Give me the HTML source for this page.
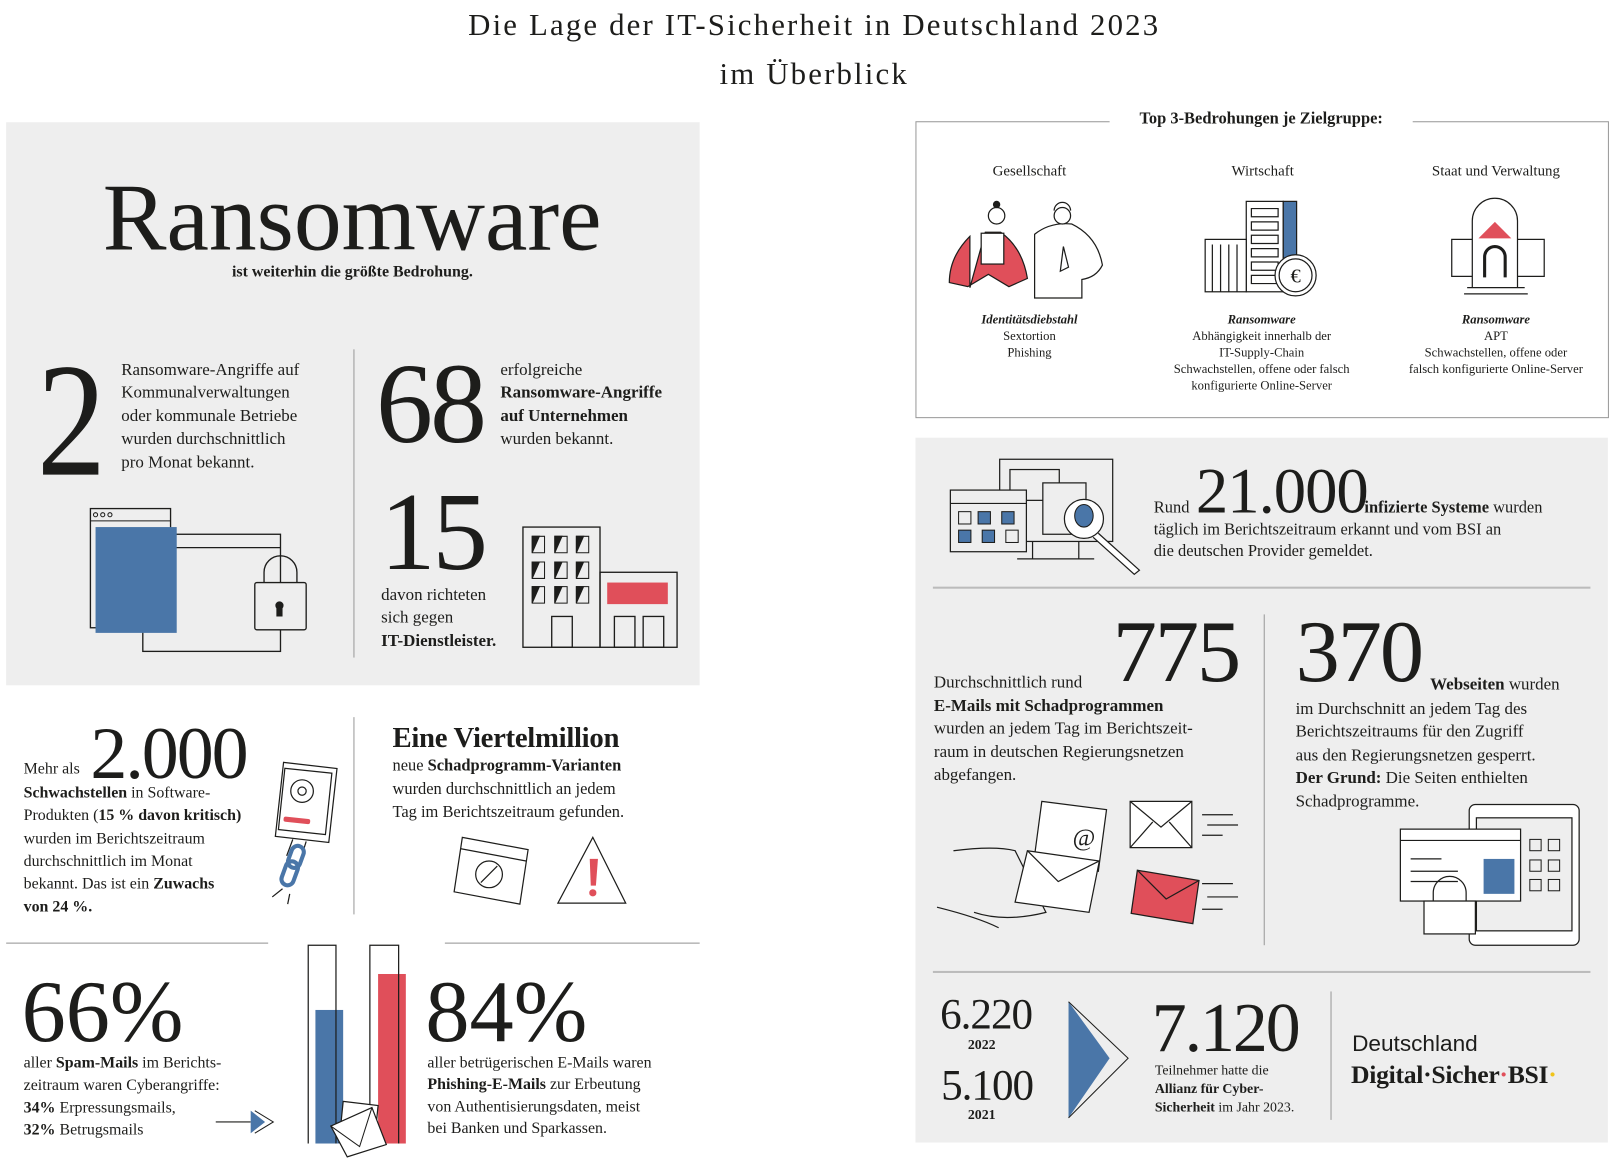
<!DOCTYPE html>
<html><head><meta charset="utf-8"><style>
html,body{margin:0;padding:0;background:#fff;overflow:hidden}
#w{position:absolute;left:0;top:0;width:1568px;height:1127px;transform:scale(1.02742);transform-origin:0 0;font-family:"Liberation Serif",serif;color:#1d1d1b}
.t{position:absolute;white-space:nowrap;line-height:1}
.g{position:absolute;background:#eeeeee}
.b{font-weight:bold}
.p{position:absolute;white-space:nowrap;font-size:16.5px;line-height:22.4px}
.c{position:absolute;text-align:center;white-space:nowrap;font-size:12.3px;line-height:16px;transform:translateX(-50%)}
svg{position:absolute;overflow:visible}
</style></head><body><div id="w">

<div class="t" style="left:0;width:1585px;text-align:center;top:10px;font-size:30px;letter-spacing:2.1px">Die Lage der IT-Sicherheit in Deutschland 2023</div>
<div class="t" style="left:0;width:1585px;text-align:center;top:58px;font-size:30px;letter-spacing:2.1px">im Überblick</div>

<div class="g" style="left:6px;top:119px;width:675px;height:548px"></div>
<div class="t" style="left:100px;top:166px;font-size:93px">Ransomware</div>
<div class="t b" style="left:143px;width:400px;text-align:center;top:257px;font-size:15.5px">ist weiterhin die größte Bedrohung.</div>
<div style="position:absolute;left:344px;top:340px;width:1px;height:300px;background:#999"></div>

<div class="t" style="left:36px;top:331px;font-size:158px;transform:scaleX(0.85);transform-origin:0 0">2</div>
<div class="p" style="left:118px;top:349px">Ransomware-Angriffe auf<br>Kommunalverwaltungen<br>oder kommunale Betriebe<br>wurden durchschnittlich<br>pro Monat bekannt.</div>
<div class="t" style="left:366px;top:338px;font-size:111px;letter-spacing:-3px">68</div>
<div class="p" style="left:487px;top:349px">erfolgreiche<br><b>Ransomware-Angriffe<br>auf Unternehmen</b><br>wurden bekannt.</div>
<div class="t" style="left:370px;top:465px;font-size:108px;letter-spacing:-3px">15</div>
<div class="p" style="left:371px;top:568px">davon richteten<br>sich gegen<br><b>IT-Dienstleister.</b></div>

<svg style="left:0;top:0" width="700" height="700">
 <g fill="none" stroke="#1d1d1b" stroke-width="1.3">
  <rect x="139" y="520" width="134" height="114"/>
  <line x1="139" y1="533" x2="273" y2="533"/>
 </g>
 <rect x="88" y="495" width="78" height="116" fill="#eee" stroke="#1d1d1b" stroke-width="1.3"/>
 <rect x="93" y="513" width="79" height="103" fill="#4a76a8"/>
 <line x1="88" y1="507" x2="166" y2="507" stroke="#1d1d1b"/>
 <g fill="none" stroke="#1d1d1b" stroke-width="1"><circle cx="93" cy="501" r="2"/><circle cx="100" cy="501" r="2"/><circle cx="107" cy="501" r="2"/></g>
 <path d="M257 567 v-10 a16 16 0 0 1 32 0 v10" fill="none" stroke="#1d1d1b" stroke-width="1.3"/>
 <rect x="248" y="567" width="50" height="46" rx="2" fill="#eee" stroke="#1d1d1b" stroke-width="1.3"/>
 <path d="M269 592 a4 4 0 1 1 6 0 v8 h-6z" fill="#1d1d1b"/>
 <g fill="none" stroke="#1d1d1b" stroke-width="1.3">
  <rect x="509" y="513" width="75" height="117"/>
  <rect x="584" y="557" width="75" height="73"/>
  <rect x="537" y="600" width="20" height="30"/>
  <rect x="598" y="600" width="20" height="30"/>
  <rect x="626" y="600" width="20" height="30"/>
 </g>
 <rect x="591" y="567" width="59" height="21" fill="#e04f5a"/>
 <g fill="#1d1d1b" stroke="#1d1d1b">
  <path d="M518 522h12v16h-12z M540 522h12v16h-12z M561 522h12v16h-12z M518 547h12v16h-12z M540 547h12v16h-12z M561 547h12v16h-12z M518 571h12v16h-12z M540 571h12v16h-12z M561 571h12v16h-12z" fill="none"/>
  <path d="M518 538 l0 -16 l7 0z M540 538 l0 -16 l7 0z M561 538 l0 -16 l7 0z M518 563 l0 -16 l7 0z M540 563 l0 -16 l7 0z M561 563 l0 -16 l7 0z M518 587 l0 -16 l7 0z M540 587 l0 -16 l7 0z M561 587 l0 -16 l7 0z"/>
 </g>
</svg>

<div class="t" style="left:23px;top:741px;font-size:15.5px">Mehr als</div>
<div class="t" style="left:88px;top:697px;font-size:72px;letter-spacing:-2px">2.000</div>
<div class="p" style="left:23px;top:761px;font-size:15.5px;line-height:22.3px"><b>Schwachstellen</b> in Software-<br>Produkten (<b>15 % davon kritisch)</b><br>wurden im Berichtszeitraum<br>durchschnittlich im Monat<br>bekannt. Das ist ein <b>Zuwachs<br>von 24 %.</b></div>
<div style="position:absolute;left:344px;top:698px;width:1px;height:192px;background:#999"></div>
<div class="t b" style="left:382px;top:705px;font-size:28px;letter-spacing:-0.3px">Eine Viertelmillion</div>
<div class="p" style="left:382px;top:735px;font-size:16px;line-height:22.5px">neue <b>Schadprogramm-Varianten</b><br>wurden durchschnittlich an jedem<br>Tag im Berichtszeitraum gefunden.</div>

<svg style="left:0;top:0" width="700" height="1130">
 <g fill="none" stroke="#1d1d1b" stroke-width="1.2">
  <path d="M276 742 l52 6 l-8 72 l-52 -6z"/>
  <rect x="274" y="750" width="46" height="60" transform="rotate(6 297 780)"/>
  <circle cx="294" cy="770" r="11"/><circle cx="294" cy="770" r="4"/>
  <path d="M285 817 l-6 16 M298 819 l-5 16"/>
  <path d="M450 815 l64 12 l-8 53 l-64 -12z"/><path d="M448 826 l64 12"/>
  <circle cx="476" cy="851" r="13"/><path d="M468 859 l16 -16"/>
  <path d="M577 815 l32 64 h-66z"/>
  <path d="M275 865 l-10 8 M282 870 l-2 10"/>
 </g>
 <rect x="276" y="796" width="26" height="5" rx="2" fill="#e04f5a" transform="rotate(6 289 798)"/>
 <g fill="none" stroke="#4a76a8" stroke-width="4"><rect x="282" y="823" width="12" height="22" rx="6" transform="rotate(20 288 834)"/><rect x="276" y="838" width="12" height="24" rx="6" transform="rotate(20 282 850)"/></g>
 <path d="M574 836 l8 0 l-2 26 l-5 0z" fill="#e04f5a"/><circle cx="577" cy="869" r="3.5" fill="#e04f5a"/>
 <line x1="6" y1="918" x2="261" y2="918" stroke="#bbb" stroke-width="1.5"/>
 <line x1="433" y1="918" x2="681" y2="918" stroke="#bbb" stroke-width="1.5"/>
 <rect x="307" y="983" width="27" height="130" fill="#4a76a8"/>
 <rect x="368" y="948" width="27" height="165" fill="#e04f5a"/>
 <g fill="none" stroke="#1d1d1b" stroke-width="1.2"><path d="M300 1113 V920 h27 V1113 M360 1113 V920 h28 V1113"/></g>
 <path d="M334 1072 l34 4 l-4 40 l-34 -4z" fill="#fff" stroke="#1d1d1b" stroke-width="1.2"/>
 <path d="M322 1096 l40 -18 l14 36 l-38 12z" fill="#fff" stroke="#1d1d1b" stroke-width="1.2"/>
 <path d="M322 1096 l28 20 l12 -38" fill="none" stroke="#1d1d1b"/>
 <line x1="210" y1="1092" x2="244" y2="1092" stroke="#1d1d1b" stroke-width="1.2"/>
 <path d="M244 1081 l14 11 l-14 11z" fill="#4a76a8"/><path d="M248 1081 l18 11 l-18 11" fill="none" stroke="#1d1d1b"/>
</svg>

<div class="t" style="left:21px;top:941px;font-size:86px;letter-spacing:0px">66%</div>
<div class="p" style="left:23px;top:1024px;font-size:15.5px;line-height:21.8px">aller <b>Spam-Mails</b> im Berichts-<br>zeitraum waren Cyberangriffe:<br><b>34%</b> Erpressungsmails,<br><b>32%</b> Betrugsmails</div>
<div class="t" style="left:414px;top:941px;font-size:86px;letter-spacing:0px">84%</div>
<div class="p" style="left:416px;top:1024px;font-size:15.5px;line-height:21.3px">aller betrügerischen E-Mails waren<br><b>Phishing-E-Mails</b> zur Erbeutung<br>von Authentisierungsdaten, meist<br>bei Banken und Sparkassen.</div>

<div style="position:absolute;left:891px;top:118px;width:673px;height:287px;border:1px solid #999"></div>
<div class="t b" style="left:1080px;width:295px;text-align:center;top:108px;font-size:16px;background:#fff">Top 3-Bedrohungen je Zielgruppe:</div>
<div class="t" style="left:1002px;top:160px;font-size:14.5px;transform:translateX(-50%)">Gesellschaft</div>
<div class="t" style="left:1229px;top:160px;font-size:14.5px;transform:translateX(-50%)">Wirtschaft</div>
<div class="t" style="left:1456px;top:160px;font-size:14.5px;transform:translateX(-50%)">Staat und Verwaltung</div>
<div class="c" style="left:1002px;top:303px"><b><i>Identitätsdiebstahl</i></b><br>Sextortion<br>Phishing</div>
<div class="c" style="left:1228px;top:303px"><b><i>Ransomware</i></b><br>Abhängigkeit innerhalb der<br>IT-Supply-Chain<br>Schwachstellen, offene oder falsch<br>konfigurierte Online-Server</div>
<div class="c" style="left:1456px;top:303px"><b><i>Ransomware</i></b><br>APT<br>Schwachstellen, offene oder<br>falsch konfigurierte Online-Server</div>

<svg style="left:0;top:0" width="1568" height="1127">
 <g stroke="#1d1d1b" stroke-width="1.2">
  <path d="M944 280 V230 q-20 20 -20 45 l18 4 l20 -12 l20 12 l18 -8 q-5 -30 -26 -45 l-15 0z" fill="#e04f5a"/>
  <rect x="955" y="227" width="22" height="30" fill="#fff"/>
  <circle cx="970" cy="210" r="8" fill="#fff"/><circle cx="970" cy="199" r="3" fill="#1d1d1b"/>
  <path d="M1007 290 V228 q15 -12 36 -10 q25 12 30 40 q-6 12 -20 14 V290z" fill="#fff"/>
  <circle cx="1034" cy="210" r="8" fill="#fff"/>
  <path d="M1026 205 a8 8 0 0 1 16 0" fill="none"/>
  <path d="M1035 240 l5 20 l-8 4z" fill="none"/>
  <rect x="1213" y="196" width="36" height="88" fill="#fff"/>
  <rect x="1249" y="196" width="13" height="88" fill="#4a76a8"/>
  <rect x="1173" y="233" width="40" height="51" fill="#fff"/>
  <path d="M1180 238 V284 M1188 238 V284 M1196 238 V284 M1204 238 V284" fill="none"/>
  <path d="M1218 203h26v8h-26z M1218 216h26v8h-26z M1218 229h26v8h-26z M1218 242h26v8h-26z M1218 255h26v8h-26z M1218 268h26v8h-26z" fill="none"/>
  <circle cx="1261" cy="268" r="20" fill="#fff"/><circle cx="1261" cy="268" r="16" fill="none"/>
  <rect x="1413" y="233" width="90" height="36" fill="#fff"/>
  <path d="M1433 280 V215 a22 22 0 0 1 44 0 V280" fill="#fff"/>
  <path d="M1439 232 l16 -16 l16 16z" fill="#e04f5a" stroke="none"/>
  <path d="M1445 270 V250 a10 10 0 0 1 20 0 V270" fill="none" stroke-width="3"/>
  <path d="M1428 280 h56 M1425 286 h62" fill="none"/>
 </g>
 <text x="1261" y="275" font-family="Liberation Serif" font-size="20" text-anchor="middle" fill="#1d1d1b">€</text>
</svg>

<div class="g" style="left:891px;top:426px;width:674px;height:686px"></div>
<div class="t" style="left:1123px;top:487px;font-size:16px">Rund</div>
<div class="t" style="left:1164px;top:447px;font-size:63px;letter-spacing:-1px">21.000</div>
<div class="t" style="left:1328px;top:487px;font-size:16px"><b>infizierte Systeme</b> wurden</div>
<div class="p" style="left:1123px;top:505px;font-size:16px;line-height:21px">täglich im Berichtszeitraum erkannt und vom BSI an<br>die deutschen Provider gemeldet.</div>
<div style="position:absolute;left:908px;top:571px;width:640px;height:1.5px;background:#bbb"></div>

<div class="t" style="left:909px;top:656px;font-size:16.5px">Durchschnittlich rund</div>
<div class="t" style="left:1083px;top:591px;font-size:86px;letter-spacing:-2px">775</div>
<div class="p" style="left:909px;top:676px"><b>E-Mails mit Schadprogrammen</b><br>wurden an jedem Tag im Berichtszeit-<br>raum in deutschen Regierungsnetzen<br>abgefangen.</div>
<div style="position:absolute;left:1230px;top:598px;width:1px;height:322px;background:#999"></div>
<div class="t" style="left:1261px;top:591px;font-size:86px;letter-spacing:-2px">370</div>
<div class="t" style="left:1392px;top:658px;font-size:16.5px"><b>Webseiten</b> wurden</div>
<div class="p" style="left:1261px;top:679px">im Durchschnitt an jedem Tag des<br>Berichtszeitraums für den Zugriff<br>aus den Regierungsnetzen gesperrt.<br><b>Der Grund:</b> Die Seiten enthielten<br>Schadprogramme.</div>
<div style="position:absolute;left:908px;top:945px;width:640px;height:1.5px;background:#bbb"></div>

<svg style="left:0;top:0" width="1568" height="1127">
 <g stroke="#1d1d1b" stroke-width="1.2" fill="#eee">
  <rect x="973" y="447" width="110" height="80"/>
  <path d="M1005 527 v17 M1050 527 v17 M990 544 h75" fill="none"/>
  <rect x="983" y="457" width="48" height="30"/>
  <rect x="925" y="477" width="74" height="60"/>
  <path d="M925 490 h74" fill="none"/>
  <rect x="1015" y="470" width="42" height="50"/>
  <circle cx="1055" cy="505" r="19" fill="#fff"/>
  <path d="M1069 519 l40 36 l-5 4 l-40 -36" fill="#fff"/>
 </g>
 <g fill="#4a76a8" stroke="#1d1d1b"><rect x="952" y="498" width="12" height="12"/><rect x="975" y="498" width="12" height="12"/><rect x="933" y="516" width="12" height="12"/><rect x="956" y="516" width="12" height="12"/><ellipse cx="1055" cy="502" rx="9" ry="11"/></g>
 <g fill="none" stroke="#1d1d1b"><rect x="933" y="498" width="12" height="12"/><rect x="979" y="516" width="12" height="12"/></g>

 <g stroke="#1d1d1b" stroke-width="1.2" fill="#fff">
  <path d="M928 828 q40 -5 60 0 l30 60 q-40 10 -70 0 M912 883 q40 10 60 20" fill="none"/>
  <path d="M1014 780 l63 8 l-8 60 l-63 -8z"/>
  <path d="M1000 828 l70 10 l-10 50 l-72 -10z"/><path d="M1000 828 l30 30 l40 -20" fill="none"/>
  <path d="M1100 780 l60 0 l0 45 l-60 0z"/><path d="M1100 780 l30 25 l30 -25 M1100 825 l22 -25 M1160 825 l-22 -25" fill="none"/>
  <path d="M1107 847 l60 10 l-6 42 l-60 -10z" fill="#e04f5a"/><path d="M1107 847 l28 28 l32 -18" fill="none"/>
  <path d="M1170 793 h30 M1175 803 h30 M1170 813 h20 M1170 860 h30 M1175 873 h30 M1170 885 h20" fill="none"/>
  <rect x="1430" y="783" width="107" height="137" rx="6"/>
  <rect x="1437" y="796" width="93" height="110" fill="#eee"/>
  <rect x="1363" y="807" width="117" height="70" fill="#fff"/>
  <path d="M1363 818 h117 M1373 836 h30 M1373 848 h46 M1373 858 h46" fill="none"/>
  <rect x="1386" y="877" width="50" height="32"/>
  <path d="M1395 877 v-8 a16 16 0 0 1 32 0 v8" fill="none"/>
 </g>
 <rect x="1444" y="836" width="30" height="34" fill="#4a76a8"/>
 <text x="1044" y="823" font-family="Liberation Serif" font-size="24" fill="#1d1d1b">@</text>
 <g fill="none" stroke="#1d1d1b"><rect x="1489" y="817" width="11" height="11"/><rect x="1507" y="817" width="11" height="11"/><rect x="1489" y="837" width="11" height="11"/><rect x="1507" y="837" width="11" height="11"/><rect x="1489" y="856" width="11" height="11"/><rect x="1507" y="856" width="11" height="11"/></g>

 <path d="M1040 975 L1080 1030 L1040 1088z" fill="#4a76a8"/>
 <path d="M1040 975 L1098 1030 L1040 1088" fill="none" stroke="#1d1d1b" stroke-width="1"/>
</svg>

<div class="t" style="left:915px;top:967px;font-size:42px;letter-spacing:-1px">6.220</div>
<div class="t b" style="left:942px;top:1010px;font-size:13.5px">2022</div>
<div class="t" style="left:916px;top:1036px;font-size:42px;letter-spacing:-1px">5.100</div>
<div class="t b" style="left:942px;top:1078px;font-size:13.5px">2021</div>
<div class="t" style="left:1121px;top:966px;font-size:68px;letter-spacing:-2px">7.120</div>
<div class="p" style="left:1124px;top:1033px;font-size:13.5px;line-height:18px">Teilnehmer hatte die<br><b>Allianz für Cyber-<br>Sicherheit</b> im Jahr 2023.</div>
<div style="position:absolute;left:1295px;top:965px;width:1px;height:125px;background:#999"></div>
<div class="t" style="left:1316px;top:1005px;font-size:22px;font-family:'Liberation Sans',sans-serif">Deutschland</div>
<div class="t b" style="left:1315px;top:1034px;font-size:25px;letter-spacing:-0.3px">Digital·Sicher<span style="color:#e04f5a">·</span>BSI<span style="color:#f0c419">·</span></div>

</div></body></html>
